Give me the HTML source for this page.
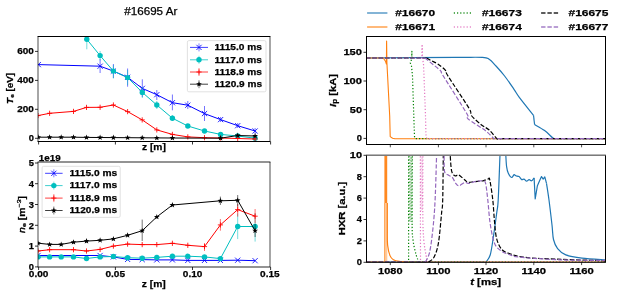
<!DOCTYPE html><html><head><meta charset="utf-8"><style>html,body{margin:0;padding:0;background:#fff;width:618px;height:301px;overflow:hidden}svg{display:block;will-change:transform}text{font-family:"Liberation Sans",sans-serif;stroke:#000;stroke-width:0.25px}</style></head><body>
<svg width="618" height="301" viewBox="0 0 618 301">
<defs>
<clipPath id="cte"><rect x="38.0" y="36.5" width="232.0" height="105.0"/></clipPath>
<clipPath id="cne"><rect x="38.0" y="162.0" width="232.0" height="105.0"/></clipPath>
<clipPath id="cip"><rect x="366.5" y="36.5" width="239.0" height="108.0"/></clipPath>
<clipPath id="chx"><rect x="366.5" y="155.3" width="239.0" height="107.0"/></clipPath>
</defs>
<text x="150.8" y="14.5" font-size="10.6" font-weight="normal" font-style="normal" text-anchor="middle" fill="#000" textLength="53" lengthAdjust="spacingAndGlyphs">#16695 Ar</text>
<g clip-path="url(#cte)">
<polyline points="38.3,64.6 100.1,66.2 113.4,71.1 127.6,77.3 142.3,88.4 156.8,94.7 172.4,102.7 187.8,105.2 204.5,113.6 220.6,119.6 237.7,125.7 255.1,131.0" fill="none" stroke="#0000ff" stroke-width="1.0" stroke-linecap="butt" stroke-linejoin="round"/>
<line x1="100.10" y1="59.00" x2="100.10" y2="73.00" stroke="#0000ff" stroke-width="1.0" stroke-opacity="0.55" stroke-linecap="butt"/>
<line x1="113.40" y1="64.00" x2="113.40" y2="78.00" stroke="#0000ff" stroke-width="1.0" stroke-opacity="0.55" stroke-linecap="butt"/>
<line x1="127.60" y1="68.50" x2="127.60" y2="86.70" stroke="#0000ff" stroke-width="1.0" stroke-opacity="0.55" stroke-linecap="butt"/>
<line x1="142.30" y1="79.30" x2="142.30" y2="97.00" stroke="#0000ff" stroke-width="1.0" stroke-opacity="0.55" stroke-linecap="butt"/>
<line x1="156.80" y1="90.00" x2="156.80" y2="100.00" stroke="#0000ff" stroke-width="1.0" stroke-opacity="0.55" stroke-linecap="butt"/>
<line x1="172.40" y1="94.50" x2="172.40" y2="110.30" stroke="#0000ff" stroke-width="1.0" stroke-opacity="0.55" stroke-linecap="butt"/>
<line x1="187.80" y1="101.00" x2="187.80" y2="109.00" stroke="#0000ff" stroke-width="1.0" stroke-opacity="0.55" stroke-linecap="butt"/>
<line x1="204.50" y1="106.00" x2="204.50" y2="121.00" stroke="#0000ff" stroke-width="1.0" stroke-opacity="0.55" stroke-linecap="butt"/>
<line x1="220.60" y1="117.00" x2="220.60" y2="122.00" stroke="#0000ff" stroke-width="1.0" stroke-opacity="0.55" stroke-linecap="butt"/>
<line x1="237.70" y1="123.00" x2="237.70" y2="128.00" stroke="#0000ff" stroke-width="1.0" stroke-opacity="0.55" stroke-linecap="butt"/>
<line x1="255.10" y1="128.00" x2="255.10" y2="134.00" stroke="#0000ff" stroke-width="1.0" stroke-opacity="0.55" stroke-linecap="butt"/>
<path d="M35.70,62.00L40.90,67.20M35.70,67.20L40.90,62.00" stroke="#0000ff" stroke-width="0.85" fill="none"/>
<path d="M97.50,63.60L102.70,68.80M97.50,68.80L102.70,63.60" stroke="#0000ff" stroke-width="0.85" fill="none"/>
<path d="M110.80,68.50L116.00,73.70M110.80,73.70L116.00,68.50" stroke="#0000ff" stroke-width="0.85" fill="none"/>
<path d="M125.00,74.70L130.20,79.90M125.00,79.90L130.20,74.70" stroke="#0000ff" stroke-width="0.85" fill="none"/>
<path d="M139.70,85.80L144.90,91.00M139.70,91.00L144.90,85.80" stroke="#0000ff" stroke-width="0.85" fill="none"/>
<path d="M154.20,92.10L159.40,97.30M154.20,97.30L159.40,92.10" stroke="#0000ff" stroke-width="0.85" fill="none"/>
<path d="M169.80,100.10L175.00,105.30M169.80,105.30L175.00,100.10" stroke="#0000ff" stroke-width="0.85" fill="none"/>
<path d="M185.20,102.60L190.40,107.80M185.20,107.80L190.40,102.60" stroke="#0000ff" stroke-width="0.85" fill="none"/>
<path d="M201.90,111.00L207.10,116.20M201.90,116.20L207.10,111.00" stroke="#0000ff" stroke-width="0.85" fill="none"/>
<path d="M218.00,117.00L223.20,122.20M218.00,122.20L223.20,117.00" stroke="#0000ff" stroke-width="0.85" fill="none"/>
<path d="M235.10,123.10L240.30,128.30M235.10,128.30L240.30,123.10" stroke="#0000ff" stroke-width="0.85" fill="none"/>
<path d="M252.50,128.40L257.70,133.60M252.50,133.60L257.70,128.40" stroke="#0000ff" stroke-width="0.85" fill="none"/>
<polyline points="86.8,39.3 100.1,55.6 113.4,71.1 127.6,77.6 142.3,92.4 156.8,105.0 172.4,118.2 187.8,126.0 204.5,131.0 220.6,134.4 237.7,136.0 255.1,138.2" fill="none" stroke="#00bfbf" stroke-width="1.0" stroke-linecap="butt" stroke-linejoin="round"/>
<line x1="86.80" y1="30.00" x2="86.80" y2="49.30" stroke="#00bfbf" stroke-width="1.0" stroke-opacity="0.55" stroke-linecap="butt"/>
<line x1="100.10" y1="51.00" x2="100.10" y2="60.60" stroke="#00bfbf" stroke-width="1.0" stroke-opacity="0.55" stroke-linecap="butt"/>
<line x1="113.40" y1="65.00" x2="113.40" y2="78.50" stroke="#00bfbf" stroke-width="1.0" stroke-opacity="0.55" stroke-linecap="butt"/>
<line x1="127.60" y1="70.00" x2="127.60" y2="85.00" stroke="#00bfbf" stroke-width="1.0" stroke-opacity="0.55" stroke-linecap="butt"/>
<line x1="142.30" y1="87.00" x2="142.30" y2="98.00" stroke="#00bfbf" stroke-width="1.0" stroke-opacity="0.55" stroke-linecap="butt"/>
<line x1="156.80" y1="101.00" x2="156.80" y2="109.00" stroke="#00bfbf" stroke-width="1.0" stroke-opacity="0.55" stroke-linecap="butt"/>
<line x1="172.40" y1="115.00" x2="172.40" y2="121.00" stroke="#00bfbf" stroke-width="1.0" stroke-opacity="0.55" stroke-linecap="butt"/>
<circle cx="86.80" cy="39.30" r="2.70" fill="#00bfbf"/>
<circle cx="100.10" cy="55.60" r="2.70" fill="#00bfbf"/>
<circle cx="113.40" cy="71.10" r="2.70" fill="#00bfbf"/>
<circle cx="127.60" cy="77.60" r="2.70" fill="#00bfbf"/>
<circle cx="142.30" cy="92.40" r="2.70" fill="#00bfbf"/>
<circle cx="156.80" cy="105.00" r="2.70" fill="#00bfbf"/>
<circle cx="172.40" cy="118.20" r="2.70" fill="#00bfbf"/>
<circle cx="187.80" cy="126.00" r="2.70" fill="#00bfbf"/>
<circle cx="204.50" cy="131.00" r="2.70" fill="#00bfbf"/>
<circle cx="220.60" cy="134.40" r="2.70" fill="#00bfbf"/>
<circle cx="237.70" cy="136.00" r="2.70" fill="#00bfbf"/>
<circle cx="255.10" cy="138.20" r="2.70" fill="#00bfbf"/>
<polyline points="38.0,115.6 49.6,113.3 73.5,111.4 86.5,107.4 100.1,107.3 113.4,105.0 127.6,111.6 142.2,119.9 156.8,129.9 172.4,134.4 187.8,136.9 204.5,137.7 220.6,138.0 237.7,138.5 255.1,139.0" fill="none" stroke="#ff0000" stroke-width="1.0" stroke-linecap="butt" stroke-linejoin="round"/>
<path d="M35.40,115.60L40.60,115.60M38.00,113.00L38.00,118.20" stroke="#ff0000" stroke-width="0.85" fill="none"/>
<path d="M47.00,113.30L52.20,113.30M49.60,110.70L49.60,115.90" stroke="#ff0000" stroke-width="0.85" fill="none"/>
<path d="M70.90,111.40L76.10,111.40M73.50,108.80L73.50,114.00" stroke="#ff0000" stroke-width="0.85" fill="none"/>
<path d="M83.90,107.40L89.10,107.40M86.50,104.80L86.50,110.00" stroke="#ff0000" stroke-width="0.85" fill="none"/>
<path d="M97.50,107.30L102.70,107.30M100.10,104.70L100.10,109.90" stroke="#ff0000" stroke-width="0.85" fill="none"/>
<path d="M110.80,105.00L116.00,105.00M113.40,102.40L113.40,107.60" stroke="#ff0000" stroke-width="0.85" fill="none"/>
<path d="M125.00,111.60L130.20,111.60M127.60,109.00L127.60,114.20" stroke="#ff0000" stroke-width="0.85" fill="none"/>
<path d="M139.60,119.90L144.80,119.90M142.20,117.30L142.20,122.50" stroke="#ff0000" stroke-width="0.85" fill="none"/>
<path d="M154.20,129.90L159.40,129.90M156.80,127.30L156.80,132.50" stroke="#ff0000" stroke-width="0.85" fill="none"/>
<path d="M169.80,134.40L175.00,134.40M172.40,131.80L172.40,137.00" stroke="#ff0000" stroke-width="0.85" fill="none"/>
<path d="M185.20,136.90L190.40,136.90M187.80,134.30L187.80,139.50" stroke="#ff0000" stroke-width="0.85" fill="none"/>
<path d="M201.90,137.70L207.10,137.70M204.50,135.10L204.50,140.30" stroke="#ff0000" stroke-width="0.85" fill="none"/>
<path d="M218.00,138.00L223.20,138.00M220.60,135.40L220.60,140.60" stroke="#ff0000" stroke-width="0.85" fill="none"/>
<path d="M235.10,138.50L240.30,138.50M237.70,135.90L237.70,141.10" stroke="#ff0000" stroke-width="0.85" fill="none"/>
<path d="M252.50,139.00L257.70,139.00M255.10,136.40L255.10,141.60" stroke="#ff0000" stroke-width="0.85" fill="none"/>
<polyline points="38.2,137.2 49.6,137.2 61.2,137.2 73.5,137.2 86.5,137.4 100.1,137.5 113.4,137.6 127.6,137.7 142.2,137.8 156.8,137.9 172.4,138.0 220.6,138.2 237.7,135.5 255.1,136.0" fill="none" stroke="#000000" stroke-width="1.0" stroke-linecap="butt" stroke-linejoin="round"/>
<polygon points="38.2,134.2 38.9,136.2 41.1,136.3 39.4,137.6 40.0,139.6 38.2,138.5 36.4,139.6 37.0,137.6 35.3,136.3 37.5,136.2" fill="#000000"/>
<polygon points="49.6,134.2 50.3,136.2 52.5,136.3 50.8,137.6 51.4,139.6 49.6,138.5 47.8,139.6 48.4,137.6 46.7,136.3 48.9,136.2" fill="#000000"/>
<polygon points="61.2,134.2 61.9,136.2 64.1,136.3 62.4,137.6 63.0,139.6 61.2,138.5 59.4,139.6 60.0,137.6 58.3,136.3 60.5,136.2" fill="#000000"/>
<polygon points="73.5,134.2 74.2,136.2 76.4,136.3 74.7,137.6 75.3,139.6 73.5,138.5 71.7,139.6 72.3,137.6 70.6,136.3 72.8,136.2" fill="#000000"/>
<polygon points="86.5,134.4 87.2,136.4 89.4,136.5 87.7,137.8 88.3,139.8 86.5,138.7 84.7,139.8 85.3,137.8 83.6,136.5 85.8,136.4" fill="#000000"/>
<polygon points="100.1,134.5 100.8,136.5 103.0,136.6 101.3,137.9 101.9,139.9 100.1,138.8 98.3,139.9 98.9,137.9 97.2,136.6 99.4,136.5" fill="#000000"/>
<polygon points="113.4,134.6 114.1,136.6 116.3,136.7 114.6,138.0 115.2,140.0 113.4,138.9 111.6,140.0 112.2,138.0 110.5,136.7 112.7,136.6" fill="#000000"/>
<polygon points="127.6,134.7 128.3,136.7 130.5,136.8 128.8,138.1 129.4,140.1 127.6,139.0 125.8,140.1 126.4,138.1 124.7,136.8 126.9,136.7" fill="#000000"/>
<polygon points="142.2,134.8 142.9,136.8 145.1,136.9 143.4,138.2 144.0,140.2 142.2,139.1 140.4,140.2 141.0,138.2 139.3,136.9 141.5,136.8" fill="#000000"/>
<polygon points="156.8,134.9 157.5,136.9 159.7,137.0 158.0,138.3 158.6,140.3 156.8,139.2 155.0,140.3 155.6,138.3 153.9,137.0 156.1,136.9" fill="#000000"/>
<polygon points="172.4,135.0 173.1,137.0 175.3,137.1 173.6,138.4 174.2,140.4 172.4,139.3 170.6,140.4 171.2,138.4 169.5,137.1 171.7,137.0" fill="#000000"/>
<polygon points="220.6,135.2 221.3,137.2 223.5,137.3 221.8,138.6 222.4,140.6 220.6,139.5 218.8,140.6 219.4,138.6 217.7,137.3 219.9,137.2" fill="#000000"/>
<polygon points="237.7,132.5 238.4,134.5 240.6,134.6 238.9,135.9 239.5,137.9 237.7,136.8 235.9,137.9 236.5,135.9 234.8,134.6 237.0,134.5" fill="#000000"/>
<polygon points="255.1,133.0 255.8,135.0 258.0,135.1 256.3,136.4 256.9,138.4 255.1,137.3 253.3,138.4 253.9,136.4 252.2,135.1 254.4,135.0" fill="#000000"/>
</g>
<g clip-path="url(#cne)">
<polyline points="38.0,255.5 100.1,255.5 113.4,256.9 127.6,259.4 142.2,259.6 156.8,259.9 172.4,259.9 187.8,260.4 204.5,260.4 220.4,260.4 237.7,260.2 255.1,260.7" fill="none" stroke="#0000ff" stroke-width="1.0" stroke-linecap="butt" stroke-linejoin="round"/>
<path d="M35.40,252.90L40.60,258.10M35.40,258.10L40.60,252.90" stroke="#0000ff" stroke-width="0.85" fill="none"/>
<path d="M97.50,252.90L102.70,258.10M97.50,258.10L102.70,252.90" stroke="#0000ff" stroke-width="0.85" fill="none"/>
<path d="M110.80,254.30L116.00,259.50M110.80,259.50L116.00,254.30" stroke="#0000ff" stroke-width="0.85" fill="none"/>
<path d="M125.00,256.80L130.20,262.00M125.00,262.00L130.20,256.80" stroke="#0000ff" stroke-width="0.85" fill="none"/>
<path d="M139.60,257.00L144.80,262.20M139.60,262.20L144.80,257.00" stroke="#0000ff" stroke-width="0.85" fill="none"/>
<path d="M154.20,257.30L159.40,262.50M154.20,262.50L159.40,257.30" stroke="#0000ff" stroke-width="0.85" fill="none"/>
<path d="M169.80,257.30L175.00,262.50M169.80,262.50L175.00,257.30" stroke="#0000ff" stroke-width="0.85" fill="none"/>
<path d="M185.20,257.80L190.40,263.00M185.20,263.00L190.40,257.80" stroke="#0000ff" stroke-width="0.85" fill="none"/>
<path d="M201.90,257.80L207.10,263.00M201.90,263.00L207.10,257.80" stroke="#0000ff" stroke-width="0.85" fill="none"/>
<path d="M217.80,257.80L223.00,263.00M217.80,263.00L223.00,257.80" stroke="#0000ff" stroke-width="0.85" fill="none"/>
<path d="M235.10,257.60L240.30,262.80M235.10,262.80L240.30,257.60" stroke="#0000ff" stroke-width="0.85" fill="none"/>
<path d="M252.50,258.10L257.70,263.30M252.50,263.30L257.70,258.10" stroke="#0000ff" stroke-width="0.85" fill="none"/>
<polyline points="38.0,256.9 49.6,256.9 61.2,256.9 73.5,256.9 86.5,258.5 100.1,256.9 113.4,256.5 127.6,257.7 142.2,258.2 156.8,257.4 172.4,256.2 187.8,256.2 204.5,256.9 220.4,258.6 237.7,226.5 255.1,226.5" fill="none" stroke="#00bfbf" stroke-width="1.0" stroke-linecap="butt" stroke-linejoin="round"/>
<line x1="237.70" y1="213.30" x2="237.70" y2="239.10" stroke="#00bfbf" stroke-width="1.0" stroke-opacity="0.55" stroke-linecap="butt"/>
<line x1="255.10" y1="213.00" x2="255.10" y2="241.60" stroke="#00bfbf" stroke-width="1.0" stroke-opacity="0.55" stroke-linecap="butt"/>
<circle cx="38.00" cy="256.90" r="2.70" fill="#00bfbf"/>
<circle cx="49.60" cy="256.90" r="2.70" fill="#00bfbf"/>
<circle cx="61.20" cy="256.90" r="2.70" fill="#00bfbf"/>
<circle cx="73.50" cy="256.90" r="2.70" fill="#00bfbf"/>
<circle cx="86.50" cy="258.50" r="2.70" fill="#00bfbf"/>
<circle cx="100.10" cy="256.90" r="2.70" fill="#00bfbf"/>
<circle cx="113.40" cy="256.50" r="2.70" fill="#00bfbf"/>
<circle cx="127.60" cy="257.70" r="2.70" fill="#00bfbf"/>
<circle cx="142.20" cy="258.20" r="2.70" fill="#00bfbf"/>
<circle cx="156.80" cy="257.40" r="2.70" fill="#00bfbf"/>
<circle cx="172.40" cy="256.20" r="2.70" fill="#00bfbf"/>
<circle cx="187.80" cy="256.20" r="2.70" fill="#00bfbf"/>
<circle cx="204.50" cy="256.90" r="2.70" fill="#00bfbf"/>
<circle cx="220.40" cy="258.60" r="2.70" fill="#00bfbf"/>
<circle cx="237.70" cy="226.50" r="2.70" fill="#00bfbf"/>
<circle cx="255.10" cy="226.50" r="2.70" fill="#00bfbf"/>
<polyline points="38.0,251.0 49.6,249.7 73.5,249.7 86.5,251.0 100.1,249.4 113.4,246.1 127.6,244.1 142.2,244.6 156.8,244.6 172.4,243.3 187.8,245.3 204.5,246.6 220.4,224.9 237.7,209.6 255.1,216.2" fill="none" stroke="#ff0000" stroke-width="1.0" stroke-linecap="butt" stroke-linejoin="round"/>
<line x1="204.50" y1="243.00" x2="204.50" y2="251.00" stroke="#ff0000" stroke-width="1.0" stroke-opacity="0.55" stroke-linecap="butt"/>
<line x1="220.40" y1="219.00" x2="220.40" y2="230.70" stroke="#ff0000" stroke-width="1.0" stroke-opacity="0.55" stroke-linecap="butt"/>
<line x1="237.70" y1="204.00" x2="237.70" y2="216.60" stroke="#ff0000" stroke-width="1.0" stroke-opacity="0.55" stroke-linecap="butt"/>
<line x1="255.10" y1="209.00" x2="255.10" y2="223.20" stroke="#ff0000" stroke-width="1.0" stroke-opacity="0.55" stroke-linecap="butt"/>
<path d="M35.40,251.00L40.60,251.00M38.00,248.40L38.00,253.60" stroke="#ff0000" stroke-width="0.85" fill="none"/>
<path d="M47.00,249.70L52.20,249.70M49.60,247.10L49.60,252.30" stroke="#ff0000" stroke-width="0.85" fill="none"/>
<path d="M70.90,249.70L76.10,249.70M73.50,247.10L73.50,252.30" stroke="#ff0000" stroke-width="0.85" fill="none"/>
<path d="M83.90,251.00L89.10,251.00M86.50,248.40L86.50,253.60" stroke="#ff0000" stroke-width="0.85" fill="none"/>
<path d="M97.50,249.40L102.70,249.40M100.10,246.80L100.10,252.00" stroke="#ff0000" stroke-width="0.85" fill="none"/>
<path d="M110.80,246.10L116.00,246.10M113.40,243.50L113.40,248.70" stroke="#ff0000" stroke-width="0.85" fill="none"/>
<path d="M125.00,244.10L130.20,244.10M127.60,241.50L127.60,246.70" stroke="#ff0000" stroke-width="0.85" fill="none"/>
<path d="M139.60,244.60L144.80,244.60M142.20,242.00L142.20,247.20" stroke="#ff0000" stroke-width="0.85" fill="none"/>
<path d="M154.20,244.60L159.40,244.60M156.80,242.00L156.80,247.20" stroke="#ff0000" stroke-width="0.85" fill="none"/>
<path d="M169.80,243.30L175.00,243.30M172.40,240.70L172.40,245.90" stroke="#ff0000" stroke-width="0.85" fill="none"/>
<path d="M185.20,245.30L190.40,245.30M187.80,242.70L187.80,247.90" stroke="#ff0000" stroke-width="0.85" fill="none"/>
<path d="M201.90,246.60L207.10,246.60M204.50,244.00L204.50,249.20" stroke="#ff0000" stroke-width="0.85" fill="none"/>
<path d="M217.80,224.90L223.00,224.90M220.40,222.30L220.40,227.50" stroke="#ff0000" stroke-width="0.85" fill="none"/>
<path d="M235.10,209.60L240.30,209.60M237.70,207.00L237.70,212.20" stroke="#ff0000" stroke-width="0.85" fill="none"/>
<path d="M252.50,216.20L257.70,216.20M255.10,213.60L255.10,218.80" stroke="#ff0000" stroke-width="0.85" fill="none"/>
<polyline points="38.0,243.2 49.6,244.4 61.2,244.4 73.5,242.2 86.5,241.1 100.1,240.3 113.4,238.9 127.6,235.3 142.2,230.7 156.8,216.9 172.4,205.0 220.4,200.8 237.7,200.3 255.1,230.7" fill="none" stroke="#000000" stroke-width="1.0" stroke-linecap="butt" stroke-linejoin="round"/>
<line x1="142.20" y1="219.60" x2="142.20" y2="241.00" stroke="#000000" stroke-width="1.0" stroke-opacity="0.55" stroke-linecap="butt"/>
<line x1="220.40" y1="196.60" x2="220.40" y2="205.00" stroke="#000000" stroke-width="1.0" stroke-opacity="0.55" stroke-linecap="butt"/>
<line x1="237.70" y1="195.00" x2="237.70" y2="206.60" stroke="#000000" stroke-width="1.0" stroke-opacity="0.55" stroke-linecap="butt"/>
<line x1="255.10" y1="224.00" x2="255.10" y2="237.00" stroke="#000000" stroke-width="1.0" stroke-opacity="0.55" stroke-linecap="butt"/>
<polygon points="38.0,240.2 38.7,242.2 40.9,242.3 39.2,243.6 39.8,245.6 38.0,244.5 36.2,245.6 36.8,243.6 35.1,242.3 37.3,242.2" fill="#000000"/>
<polygon points="49.6,241.4 50.3,243.4 52.5,243.5 50.8,244.8 51.4,246.8 49.6,245.7 47.8,246.8 48.4,244.8 46.7,243.5 48.9,243.4" fill="#000000"/>
<polygon points="61.2,241.4 61.9,243.4 64.1,243.5 62.4,244.8 63.0,246.8 61.2,245.7 59.4,246.8 60.0,244.8 58.3,243.5 60.5,243.4" fill="#000000"/>
<polygon points="73.5,239.2 74.2,241.2 76.4,241.3 74.7,242.6 75.3,244.6 73.5,243.5 71.7,244.6 72.3,242.6 70.6,241.3 72.8,241.2" fill="#000000"/>
<polygon points="86.5,238.1 87.2,240.1 89.4,240.2 87.7,241.5 88.3,243.5 86.5,242.4 84.7,243.5 85.3,241.5 83.6,240.2 85.8,240.1" fill="#000000"/>
<polygon points="100.1,237.3 100.8,239.3 103.0,239.4 101.3,240.7 101.9,242.7 100.1,241.6 98.3,242.7 98.9,240.7 97.2,239.4 99.4,239.3" fill="#000000"/>
<polygon points="113.4,235.9 114.1,237.9 116.3,238.0 114.6,239.3 115.2,241.3 113.4,240.2 111.6,241.3 112.2,239.3 110.5,238.0 112.7,237.9" fill="#000000"/>
<polygon points="127.6,232.3 128.3,234.3 130.5,234.4 128.8,235.7 129.4,237.7 127.6,236.6 125.8,237.7 126.4,235.7 124.7,234.4 126.9,234.3" fill="#000000"/>
<polygon points="142.2,227.7 142.9,229.7 145.1,229.8 143.4,231.1 144.0,233.1 142.2,232.0 140.4,233.1 141.0,231.1 139.3,229.8 141.5,229.7" fill="#000000"/>
<polygon points="156.8,213.9 157.5,215.9 159.7,216.0 158.0,217.3 158.6,219.3 156.8,218.2 155.0,219.3 155.6,217.3 153.9,216.0 156.1,215.9" fill="#000000"/>
<polygon points="172.4,202.0 173.1,204.0 175.3,204.1 173.6,205.4 174.2,207.4 172.4,206.3 170.6,207.4 171.2,205.4 169.5,204.1 171.7,204.0" fill="#000000"/>
<polygon points="220.4,197.8 221.1,199.8 223.3,199.9 221.6,201.2 222.2,203.2 220.4,202.1 218.6,203.2 219.2,201.2 217.5,199.9 219.7,199.8" fill="#000000"/>
<polygon points="237.7,197.3 238.4,199.3 240.6,199.4 238.9,200.7 239.5,202.7 237.7,201.6 235.9,202.7 236.5,200.7 234.8,199.4 237.0,199.3" fill="#000000"/>
<polygon points="255.1,227.7 255.8,229.7 258.0,229.8 256.3,231.1 256.9,233.1 255.1,232.0 253.3,233.1 253.9,231.1 252.2,229.8 254.4,229.7" fill="#000000"/>
</g>
<line x1="38.00" y1="36.50" x2="38.00" y2="141.50" stroke="#000" stroke-width="0.7" stroke-linecap="butt"/>
<line x1="270.00" y1="36.50" x2="270.00" y2="141.50" stroke="#000" stroke-width="0.7" stroke-linecap="butt"/>
<line x1="37.60" y1="36.50" x2="270.40" y2="36.50" stroke="#000" stroke-width="1.0" stroke-linecap="butt"/>
<line x1="37.60" y1="141.50" x2="270.40" y2="141.50" stroke="#000" stroke-width="1.0" stroke-linecap="butt"/>
<line x1="38.00" y1="162.00" x2="38.00" y2="267.00" stroke="#000" stroke-width="0.7" stroke-linecap="butt"/>
<line x1="270.00" y1="162.00" x2="270.00" y2="267.00" stroke="#000" stroke-width="0.7" stroke-linecap="butt"/>
<line x1="37.60" y1="162.00" x2="270.40" y2="162.00" stroke="#000" stroke-width="0.85" stroke-linecap="butt"/>
<line x1="37.60" y1="267.00" x2="270.40" y2="267.00" stroke="#000" stroke-width="0.85" stroke-linecap="butt"/>
<line x1="38.60" y1="141.50" x2="38.60" y2="144.50" stroke="#000" stroke-width="0.8" stroke-linecap="butt"/>
<line x1="38.60" y1="267.00" x2="38.60" y2="270.00" stroke="#000" stroke-width="0.8" stroke-linecap="butt"/>
<line x1="115.40" y1="141.50" x2="115.40" y2="144.50" stroke="#000" stroke-width="0.8" stroke-linecap="butt"/>
<line x1="115.40" y1="267.00" x2="115.40" y2="270.00" stroke="#000" stroke-width="0.8" stroke-linecap="butt"/>
<line x1="192.50" y1="141.50" x2="192.50" y2="144.50" stroke="#000" stroke-width="0.8" stroke-linecap="butt"/>
<line x1="192.50" y1="267.00" x2="192.50" y2="270.00" stroke="#000" stroke-width="0.8" stroke-linecap="butt"/>
<line x1="270.60" y1="141.50" x2="270.60" y2="144.50" stroke="#000" stroke-width="0.8" stroke-linecap="butt"/>
<line x1="270.60" y1="267.00" x2="270.60" y2="270.00" stroke="#000" stroke-width="0.8" stroke-linecap="butt"/>
<line x1="35.00" y1="51.40" x2="38.00" y2="51.40" stroke="#000" stroke-width="0.8" stroke-linecap="butt"/>
<text x="33.9" y="54.3" font-size="9.2" font-weight="bold" font-style="normal" text-anchor="end" fill="#000" textLength="16.6" lengthAdjust="spacingAndGlyphs">600</text>
<line x1="35.00" y1="80.40" x2="38.00" y2="80.40" stroke="#000" stroke-width="0.8" stroke-linecap="butt"/>
<text x="33.9" y="83.30000000000001" font-size="9.2" font-weight="bold" font-style="normal" text-anchor="end" fill="#000" textLength="16.6" lengthAdjust="spacingAndGlyphs">400</text>
<line x1="35.00" y1="109.30" x2="38.00" y2="109.30" stroke="#000" stroke-width="0.8" stroke-linecap="butt"/>
<text x="33.9" y="112.2" font-size="9.2" font-weight="bold" font-style="normal" text-anchor="end" fill="#000" textLength="16.6" lengthAdjust="spacingAndGlyphs">200</text>
<line x1="35.00" y1="138.30" x2="38.00" y2="138.30" stroke="#000" stroke-width="0.8" stroke-linecap="butt"/>
<text x="33.9" y="141.20000000000002" font-size="9.2" font-weight="bold" font-style="normal" text-anchor="end" fill="#000" textLength="5.2" lengthAdjust="spacingAndGlyphs">0</text>
<line x1="35.00" y1="163.00" x2="38.00" y2="163.00" stroke="#000" stroke-width="0.8" stroke-linecap="butt"/>
<text x="33.9" y="166.3" font-size="9.2" font-weight="bold" font-style="normal" text-anchor="end" fill="#000" textLength="5.2" lengthAdjust="spacingAndGlyphs">5</text>
<line x1="35.00" y1="183.70" x2="38.00" y2="183.70" stroke="#000" stroke-width="0.8" stroke-linecap="butt"/>
<text x="33.9" y="187.0" font-size="9.2" font-weight="bold" font-style="normal" text-anchor="end" fill="#000" textLength="5.2" lengthAdjust="spacingAndGlyphs">4</text>
<line x1="35.00" y1="204.50" x2="38.00" y2="204.50" stroke="#000" stroke-width="0.8" stroke-linecap="butt"/>
<text x="33.9" y="207.8" font-size="9.2" font-weight="bold" font-style="normal" text-anchor="end" fill="#000" textLength="5.2" lengthAdjust="spacingAndGlyphs">3</text>
<line x1="35.00" y1="225.30" x2="38.00" y2="225.30" stroke="#000" stroke-width="0.8" stroke-linecap="butt"/>
<text x="33.9" y="228.60000000000002" font-size="9.2" font-weight="bold" font-style="normal" text-anchor="end" fill="#000" textLength="5.2" lengthAdjust="spacingAndGlyphs">2</text>
<line x1="35.00" y1="246.10" x2="38.00" y2="246.10" stroke="#000" stroke-width="0.8" stroke-linecap="butt"/>
<text x="33.9" y="249.4" font-size="9.2" font-weight="bold" font-style="normal" text-anchor="end" fill="#000" textLength="5.2" lengthAdjust="spacingAndGlyphs">1</text>
<line x1="35.00" y1="266.90" x2="38.00" y2="266.90" stroke="#000" stroke-width="0.8" stroke-linecap="butt"/>
<text x="33.9" y="270.2" font-size="9.2" font-weight="bold" font-style="normal" text-anchor="end" fill="#000" textLength="5.2" lengthAdjust="spacingAndGlyphs">0</text>
<text x="38.8" y="161.2" font-size="9.2" font-weight="bold" font-style="normal" text-anchor="start" fill="#000" textLength="21.9" lengthAdjust="spacingAndGlyphs">1e19</text>
<text x="38.6" y="277.3" font-size="9.2" font-weight="bold" font-style="normal" text-anchor="middle" fill="#000" textLength="19.6" lengthAdjust="spacingAndGlyphs">0.00</text>
<text x="115.2" y="277.3" font-size="9.2" font-weight="bold" font-style="normal" text-anchor="middle" fill="#000" textLength="19.6" lengthAdjust="spacingAndGlyphs">0.05</text>
<text x="192.6" y="277.3" font-size="9.2" font-weight="bold" font-style="normal" text-anchor="middle" fill="#000" textLength="19.6" lengthAdjust="spacingAndGlyphs">0.10</text>
<text x="269.9" y="277.3" font-size="9.2" font-weight="bold" font-style="normal" text-anchor="middle" fill="#000" textLength="19.6" lengthAdjust="spacingAndGlyphs">0.15</text>
<text x="153.9" y="150.0" font-size="9.2" font-weight="bold" font-style="normal" text-anchor="middle" fill="#000" textLength="23.9" lengthAdjust="spacingAndGlyphs">z [m]</text>
<text x="153.8" y="287.0" font-size="9.2" font-weight="bold" font-style="normal" text-anchor="middle" fill="#000" textLength="24.0" lengthAdjust="spacingAndGlyphs">z [m]</text>
<text transform="translate(12.6,88.4) rotate(-90)" font-size="9.2" font-weight="bold" text-anchor="middle" textLength="31" lengthAdjust="spacingAndGlyphs"><tspan font-style="italic">T</tspan><tspan font-size="6.0" dy="1.5">e</tspan><tspan dy="-1.5"> [eV]</tspan></text>
<text transform="translate(24.8,214.4) rotate(-90)" font-size="8.7" font-weight="bold" text-anchor="middle" textLength="37" lengthAdjust="spacingAndGlyphs"><tspan font-style="italic" font-weight="normal" style="stroke-width:0.4px">n</tspan><tspan font-size="6.0" dy="1.5" font-weight="normal" style="stroke-width:0.3px">e</tspan><tspan dy="-1.5"> [m</tspan><tspan font-size="6.0" dy="-3.5" font-weight="normal" style="stroke-width:0.3px">−3</tspan><tspan dy="3.5">]</tspan></text>
<rect x="187.4" y="40.6" width="78.6" height="51.2" rx="1.5" fill="#fff" fill-opacity="0.8" stroke="#d9d9d9" stroke-width="0.8"/>
<line x1="190.00" y1="47.40" x2="208.00" y2="47.40" stroke="#0000ff" stroke-width="1.0" stroke-opacity="0.75" stroke-linecap="butt"/>
<line x1="199.00" y1="43.40" x2="199.00" y2="51.40" stroke="#0000ff" stroke-width="1.0" stroke-opacity="0.5" stroke-linecap="butt"/>
<path d="M196.40,44.80L201.60,50.00M196.40,50.00L201.60,44.80" stroke="#0000ff" stroke-width="0.85" fill="none"/>
<text x="214.5" y="50.199999999999996" font-size="9.2" font-weight="bold" font-style="normal" text-anchor="start" fill="#000" textLength="47.5" lengthAdjust="spacingAndGlyphs">1115.0 ms</text>
<line x1="190.00" y1="59.80" x2="208.00" y2="59.80" stroke="#00bfbf" stroke-width="1.0" stroke-opacity="0.75" stroke-linecap="butt"/>
<line x1="199.00" y1="55.80" x2="199.00" y2="63.80" stroke="#00bfbf" stroke-width="1.0" stroke-opacity="0.5" stroke-linecap="butt"/>
<circle cx="199.00" cy="59.80" r="2.70" fill="#00bfbf"/>
<text x="214.5" y="62.599999999999994" font-size="9.2" font-weight="bold" font-style="normal" text-anchor="start" fill="#000" textLength="47.5" lengthAdjust="spacingAndGlyphs">1117.0 ms</text>
<line x1="190.00" y1="72.00" x2="208.00" y2="72.00" stroke="#ff0000" stroke-width="1.0" stroke-opacity="0.75" stroke-linecap="butt"/>
<line x1="199.00" y1="68.00" x2="199.00" y2="76.00" stroke="#ff0000" stroke-width="1.0" stroke-opacity="0.5" stroke-linecap="butt"/>
<path d="M196.40,72.00L201.60,72.00M199.00,69.40L199.00,74.60" stroke="#ff0000" stroke-width="0.85" fill="none"/>
<text x="214.5" y="74.8" font-size="9.2" font-weight="bold" font-style="normal" text-anchor="start" fill="#000" textLength="47.5" lengthAdjust="spacingAndGlyphs">1118.9 ms</text>
<line x1="190.00" y1="84.20" x2="208.00" y2="84.20" stroke="#000000" stroke-width="1.0" stroke-opacity="0.75" stroke-linecap="butt"/>
<line x1="199.00" y1="80.20" x2="199.00" y2="88.20" stroke="#000000" stroke-width="1.0" stroke-opacity="0.5" stroke-linecap="butt"/>
<polygon points="199.0,81.2 199.7,83.2 201.9,83.3 200.2,84.6 200.8,86.6 199.0,85.5 197.2,86.6 197.8,84.6 196.1,83.3 198.3,83.2" fill="#000000"/>
<text x="214.5" y="87.0" font-size="9.2" font-weight="bold" font-style="normal" text-anchor="start" fill="#000" textLength="47.5" lengthAdjust="spacingAndGlyphs">1120.9 ms</text>
<rect x="42.1" y="166.3" width="78.1" height="51.1" rx="1.5" fill="#fff" fill-opacity="0.8" stroke="#d9d9d9" stroke-width="0.8"/>
<line x1="45.10" y1="173.30" x2="62.60" y2="173.30" stroke="#0000ff" stroke-width="1.0" stroke-opacity="0.75" stroke-linecap="butt"/>
<line x1="53.85" y1="169.30" x2="53.85" y2="177.30" stroke="#0000ff" stroke-width="1.0" stroke-opacity="0.5" stroke-linecap="butt"/>
<path d="M51.25,170.70L56.45,175.90M51.25,175.90L56.45,170.70" stroke="#0000ff" stroke-width="0.85" fill="none"/>
<text x="69.5" y="176.10000000000002" font-size="9.2" font-weight="bold" font-style="normal" text-anchor="start" fill="#000" textLength="47.7" lengthAdjust="spacingAndGlyphs">1115.0 ms</text>
<line x1="45.10" y1="185.60" x2="62.60" y2="185.60" stroke="#00bfbf" stroke-width="1.0" stroke-opacity="0.75" stroke-linecap="butt"/>
<line x1="53.85" y1="181.60" x2="53.85" y2="189.60" stroke="#00bfbf" stroke-width="1.0" stroke-opacity="0.5" stroke-linecap="butt"/>
<circle cx="53.85" cy="185.60" r="2.70" fill="#00bfbf"/>
<text x="69.5" y="188.4" font-size="9.2" font-weight="bold" font-style="normal" text-anchor="start" fill="#000" textLength="47.7" lengthAdjust="spacingAndGlyphs">1117.0 ms</text>
<line x1="45.10" y1="198.10" x2="62.60" y2="198.10" stroke="#ff0000" stroke-width="1.0" stroke-opacity="0.75" stroke-linecap="butt"/>
<line x1="53.85" y1="194.10" x2="53.85" y2="202.10" stroke="#ff0000" stroke-width="1.0" stroke-opacity="0.5" stroke-linecap="butt"/>
<path d="M51.25,198.10L56.45,198.10M53.85,195.50L53.85,200.70" stroke="#ff0000" stroke-width="0.85" fill="none"/>
<text x="69.5" y="200.9" font-size="9.2" font-weight="bold" font-style="normal" text-anchor="start" fill="#000" textLength="47.7" lengthAdjust="spacingAndGlyphs">1118.9 ms</text>
<line x1="45.10" y1="210.50" x2="62.60" y2="210.50" stroke="#000000" stroke-width="1.0" stroke-opacity="0.75" stroke-linecap="butt"/>
<line x1="53.85" y1="206.50" x2="53.85" y2="214.50" stroke="#000000" stroke-width="1.0" stroke-opacity="0.5" stroke-linecap="butt"/>
<polygon points="53.9,207.5 54.6,209.5 56.7,209.6 55.0,210.9 55.6,212.9 53.9,211.8 52.1,212.9 52.7,210.9 51.0,209.6 53.1,209.5" fill="#000000"/>
<text x="69.5" y="213.3" font-size="9.2" font-weight="bold" font-style="normal" text-anchor="start" fill="#000" textLength="47.7" lengthAdjust="spacingAndGlyphs">1120.9 ms</text>
<g clip-path="url(#cip)">
<path d="M366.00,58.00C381.00,57.90 436.58,57.50 456.00,57.40C475.42,57.30 476.97,57.08 482.50,57.40C488.03,57.72 486.95,57.87 489.20,59.30C491.45,60.73 493.43,63.22 496.00,66.00C498.57,68.78 501.60,72.12 504.60,76.00C507.60,79.88 511.55,85.75 514.00,89.30C516.45,92.85 516.05,92.97 519.30,97.30C522.55,101.63 531.13,112.30 533.50,115.30" fill="none" stroke="#1f77b4" stroke-width="1.2" stroke-linejoin="round"/>
<polyline points="533.5,115.3 534.6,124.6" fill="none" stroke="#1f77b4" stroke-width="1.2" stroke-linecap="butt" stroke-linejoin="round"/>
<path d="M534.60,124.60C536.27,125.60 541.60,128.40 544.60,130.60C547.60,132.80 550.87,136.45 552.60,137.80C554.33,139.15 553.77,138.55 555.00,138.70C556.23,138.85 559.17,138.70 560.00,138.70" fill="none" stroke="#1f77b4" stroke-width="1.2" stroke-linejoin="round"/>
<polyline points="560.0,138.7 606.0,138.7" fill="none" stroke="#1f77b4" stroke-width="1.2" stroke-linecap="butt" stroke-linejoin="round"/>
<polyline points="366.0,58.0 383.3,58.0 385.6,61.5 386.4,64.0 386.6,41.0 386.9,62.7 387.6,76.0 389.7,116.0 390.2,136.6 392.6,138.2 395.0,138.7 606.0,138.7" fill="none" stroke="#ff7f0e" stroke-width="1.1" stroke-linecap="butt" stroke-linejoin="round"/>
<polyline points="366.0,58.0 411.6,58.0 411.9,51.3 411.9,58.5 410.3,63.0 411.5,66.0 412.5,76.0 413.8,116.0 414.5,136.6 415.5,138.7 606.0,138.7" fill="none" stroke="#008000" stroke-width="1.2" stroke-dasharray="1.2,2.0" stroke-linecap="butt" stroke-linejoin="round"/>
<polyline points="366.0,58.0 421.9,58.0 422.1,44.2 422.5,58.0 423.5,64.0 424.0,76.0 425.5,116.0 426.0,136.6 427.0,138.7 606.0,138.7" fill="none" stroke="#e377c2" stroke-width="1.2" stroke-dasharray="1.2,2.0" stroke-linecap="butt" stroke-linejoin="round"/>
<polyline points="366.0,58.0 426.6,58.0" fill="none" stroke="#000000" stroke-width="1.2" stroke-dasharray="4.4,1.9" stroke-linecap="butt" stroke-linejoin="round"/>
<path d="M426.60,58.00C427.37,58.43 429.33,59.60 431.20,60.60C433.07,61.60 435.38,62.33 437.80,64.00C440.22,65.67 444.00,68.60 445.70,70.60C447.40,72.60 444.08,69.67 448.00,76.00C451.92,82.33 465.33,102.05 469.20,108.60C473.07,115.15 469.20,112.62 471.20,115.30C473.20,117.98 478.20,122.25 481.20,124.70C484.20,127.15 486.55,127.67 489.20,130.00C491.85,132.33 495.13,137.25 497.10,138.70C499.07,140.15 500.35,138.70 501.00,138.70" fill="none" stroke="#000000" stroke-width="1.2" stroke-dasharray="4.4,1.9" stroke-linejoin="round"/>
<polyline points="501.0,138.7 606.0,138.7" fill="none" stroke="#000000" stroke-width="1.2" stroke-dasharray="4.4,1.9" stroke-linecap="butt" stroke-linejoin="round"/>
<polyline points="366.0,58.0 425.0,58.0" fill="none" stroke="#9467bd" stroke-width="1.2" stroke-dasharray="4.4,1.9" stroke-linecap="butt" stroke-linejoin="round"/>
<path d="M425.00,58.00C425.67,58.55 426.43,59.20 429.00,61.30C431.57,63.40 438.02,68.15 440.40,70.60C442.78,73.05 438.93,68.88 443.30,76.00C447.67,83.12 462.60,106.30 466.60,113.30C470.60,120.30 466.53,116.67 467.30,118.00C468.07,119.33 468.67,119.53 471.20,121.30C473.73,123.07 479.73,126.72 482.50,128.60C485.27,130.48 486.13,131.15 487.80,132.60C489.47,134.05 491.47,136.28 492.50,137.30C493.53,138.32 493.08,138.47 494.00,138.70C494.92,138.93 497.33,138.70 498.00,138.70" fill="none" stroke="#9467bd" stroke-width="1.2" stroke-dasharray="4.4,1.9" stroke-linejoin="round"/>
<polyline points="498.0,138.7 606.0,138.7" fill="none" stroke="#9467bd" stroke-width="1.2" stroke-dasharray="4.4,1.9" stroke-linecap="butt" stroke-linejoin="round"/>
</g>
<g clip-path="url(#chx)">
<polyline points="366.0,262.1 485.9,262.1" fill="none" stroke="#1f77b4" stroke-width="1.2" stroke-linecap="butt" stroke-linejoin="round"/>
<path d="M485.90,262.10C486.62,260.92 488.95,259.23 490.20,255.00C491.45,250.77 492.32,243.70 493.40,236.70C494.48,229.70 495.90,219.12 496.70,213.00C497.50,206.88 497.65,209.67 498.20,200.00C498.75,190.33 499.65,163.33 500.00,155.00C500.35,146.67 500.25,150.83 500.30,150.00" fill="none" stroke="#1f77b4" stroke-width="1.2" stroke-linejoin="round"/>
<path d="M505.60,150.00C505.63,150.83 505.63,152.23 505.80,155.00C505.97,157.77 506.18,163.55 506.60,166.60C507.02,169.65 507.47,171.48 508.30,173.30C509.13,175.12 510.63,177.28 511.60,177.50C512.57,177.72 513.40,174.88 514.10,174.60C514.80,174.32 514.97,175.47 515.80,175.80C516.63,176.13 518.13,175.97 519.10,176.60C520.07,177.23 520.77,179.18 521.60,179.60C522.43,180.02 523.27,178.83 524.10,179.10C524.93,179.37 525.77,181.12 526.60,181.20C527.43,181.28 528.27,179.67 529.10,179.60C529.93,179.53 530.77,181.08 531.60,180.80C532.43,180.52 533.68,178.38 534.10,177.90" fill="none" stroke="#1f77b4" stroke-width="1.2" stroke-linejoin="round"/>
<polyline points="534.1,177.9 535.2,199.0 537.4,185.7 539.9,180.0 541.5,176.6 543.2,179.1 544.8,176.9 546.5,183.3" fill="none" stroke="#1f77b4" stroke-width="1.2" stroke-linecap="butt" stroke-linejoin="round"/>
<path d="M546.50,183.30C546.92,186.08 548.08,193.05 549.00,200.00C549.92,206.95 551.25,218.42 552.00,225.00C552.75,231.58 552.57,235.57 553.50,239.50C554.43,243.43 555.55,246.03 557.60,248.60C559.65,251.17 561.73,253.30 565.80,254.90C569.87,256.50 575.30,257.38 582.00,258.20C588.70,259.02 602.00,259.53 606.00,259.80" fill="none" stroke="#1f77b4" stroke-width="1.2" stroke-linejoin="round"/>
<rect x="384.4" y="150" width="2.8" height="53" fill="#ff7f0e" fill-opacity="0.92"/>
<rect x="384.1" y="203" width="3.2" height="59.10000000000002" fill="#ff7f0e" fill-opacity="0.42"/>
<polyline points="384.6,203.0 384.6,262.1" fill="none" stroke="#ff7f0e" stroke-width="1.0" stroke-opacity="0.5" stroke-linecap="butt" stroke-linejoin="round"/>
<path d="M387.30,203.00C387.30,207.50 387.25,223.00 387.30,230.00C387.35,237.00 387.15,240.73 387.60,245.00C388.05,249.27 389.03,253.15 390.00,255.60C390.97,258.05 391.85,258.73 393.40,259.70C394.95,260.67 396.53,261.00 399.30,261.40C402.07,261.80 408.22,261.98 410.00,262.10" fill="none" stroke="#ff7f0e" stroke-width="1.2" stroke-linejoin="round"/>
<polyline points="366.0,262.1 384.6,262.1" fill="none" stroke="#ff7f0e" stroke-width="1.2" stroke-linecap="butt" stroke-linejoin="round"/>
<polyline points="410.0,262.1 606.0,262.1" fill="none" stroke="#ff7f0e" stroke-width="1.2" stroke-linecap="butt" stroke-linejoin="round"/>
<path d="M408.6,150L412.4,151.6L408.6,153.2L412.4,154.8L408.6,156.4L412.4,158.0L408.6,159.6L412.4,161.2L408.6,162.8L412.4,164.4L408.6,166.0L412.4,167.6L408.6,169.2L412.4,170.8L408.6,172.4L412.4,174.0L408.6,175.6L412.4,177.2L408.6,178.8L412.4,180.4L408.6,182.0L412.4,183.6L408.6,185.2L412.4,186.8L408.6,188.4L412.4,190.0L408.6,191.6L412.4,193.2L408.6,194.8L412.4,196.4L408.6,198.0L412.4,199.6L408.6,201.2L412.4,202.8L408.6,204.4L412.4,206.0L408.6,207.6L412.4,209.2L408.6,210.8L412.4,212.4L408.6,214.0L412.4,215.6L408.6,217.2L412.4,218.8L408.6,220.4L412.4,222.0" stroke="#008000" stroke-width="0.8" stroke-opacity="0.55" fill="none"/>
<polyline points="408.6,150.0 408.6,260.5 409.0,262.1 606.0,262.1" fill="none" stroke="#008000" stroke-width="1.2" stroke-dasharray="1.2,2.0" stroke-linecap="butt" stroke-linejoin="round"/>
<path d="M412.30,150.00C412.27,162.00 411.98,207.00 412.10,222.00C412.22,237.00 412.32,234.50 413.00,240.00C413.68,245.50 415.13,251.32 416.20,255.00C417.27,258.68 418.27,260.92 419.40,262.10C420.53,263.28 422.40,262.10 423.00,262.10" fill="none" stroke="#008000" stroke-width="1.2" stroke-dasharray="1.2,2.0" stroke-linejoin="round"/>
<path d="M420.2,150L422.9,151.6L420.2,153.2L422.9,154.8L420.2,156.4L422.9,158.0L420.2,159.6L422.9,161.2L420.2,162.8L422.9,164.4L420.2,166.0L422.9,167.6L420.2,169.2L422.9,170.8L420.2,172.4L422.9,174.0L420.2,175.6L422.9,177.2L420.2,178.8L422.9,180.4L420.2,182.0L422.9,183.6L420.2,185.2L422.9,186.8L420.2,188.4L422.9,190.0L420.2,191.6L422.9,193.2L420.2,194.8L422.9,196.4L420.2,198.0L422.9,199.6L420.2,201.2L422.9,202.8L420.2,204.4L422.9,206.0L420.2,207.6L422.9,209.2L420.2,210.8" stroke="#e377c2" stroke-width="0.8" stroke-opacity="0.55" fill="none"/>
<polyline points="420.3,150.0 420.5,261.0 421.0,262.1 606.0,262.1" fill="none" stroke="#e377c2" stroke-width="1.2" stroke-dasharray="1.2,2.0" stroke-linecap="butt" stroke-linejoin="round"/>
<path d="M422.90,150.00C422.88,160.83 422.65,200.00 422.80,215.00C422.95,230.00 423.27,233.33 423.80,240.00C424.33,246.67 425.30,251.32 426.00,255.00C426.70,258.68 427.17,260.92 428.00,262.10C428.83,263.28 430.50,262.10 431.00,262.10" fill="none" stroke="#e377c2" stroke-width="1.2" stroke-dasharray="1.2,2.0" stroke-linejoin="round"/>
<polyline points="366.0,262.1 428.6,262.1" fill="none" stroke="#000000" stroke-width="1.2" stroke-dasharray="4.4,1.9" stroke-linecap="butt" stroke-linejoin="round"/>
<path d="M428.60,262.10C429.50,261.28 432.37,260.35 434.00,257.20C435.63,254.05 437.13,250.57 438.40,243.20C439.67,235.83 440.88,220.20 441.60,213.00C442.32,205.80 442.42,209.67 442.70,200.00C442.98,190.33 443.18,163.33 443.30,155.00C443.42,146.67 443.38,150.83 443.40,150.00" fill="none" stroke="#000000" stroke-width="1.2" stroke-dasharray="4.4,1.9" stroke-linejoin="round"/>
<path d="M450.10,150.00C450.12,150.83 449.95,151.53 450.20,155.00C450.45,158.47 450.82,167.33 451.60,170.80C452.38,174.27 453.93,175.10 454.90,175.80C455.87,176.50 456.72,175.13 457.40,175.00C458.08,174.87 457.75,174.17 459.00,175.00C460.25,175.83 463.37,178.77 464.90,180.00C466.43,181.23 466.55,182.13 468.20,182.40C469.85,182.67 472.32,181.87 474.80,181.60C477.28,181.33 480.88,181.23 483.10,180.80C485.32,180.37 486.98,179.13 488.10,179.00C489.22,178.87 489.02,176.50 489.80,180.00C490.58,183.50 492.02,193.07 492.80,200.00C493.58,206.93 493.85,215.12 494.50,221.60C495.15,228.08 495.45,234.22 496.70,238.90C497.95,243.58 499.67,247.18 502.00,249.70C504.33,252.22 507.70,252.85 510.70,254.00C513.70,255.15 515.12,255.85 520.00,256.60C524.88,257.35 525.83,257.80 540.00,258.50C554.17,259.20 594.17,260.42 605.00,260.80" fill="none" stroke="#000000" stroke-width="1.2" stroke-dasharray="4.4,1.9" stroke-linejoin="round"/>
<polyline points="366.0,262.1 425.4,262.1" fill="none" stroke="#9467bd" stroke-width="1.2" stroke-dasharray="4.4,1.9" stroke-linecap="butt" stroke-linejoin="round"/>
<path d="M425.40,262.10C426.12,260.38 428.43,257.48 429.70,251.80C430.97,246.12 432.10,236.63 433.00,228.00C433.90,219.37 434.50,212.17 435.10,200.00C435.70,187.83 436.32,163.33 436.60,155.00C436.88,146.67 436.77,150.83 436.80,150.00" fill="none" stroke="#9467bd" stroke-width="1.2" stroke-dasharray="4.4,1.9" stroke-linejoin="round"/>
<path d="M443.90,150.00C443.93,150.83 443.98,151.40 444.10,155.00C444.22,158.60 443.90,168.27 444.60,171.60C445.30,174.93 447.00,174.02 448.30,175.00C449.60,175.98 451.17,176.12 452.40,177.50C453.63,178.88 454.60,181.92 455.70,183.30C456.80,184.68 457.47,185.95 459.00,185.80C460.53,185.65 463.23,182.78 464.90,182.40C466.57,182.02 467.35,183.63 469.00,183.50C470.65,183.37 472.45,182.05 474.80,181.60C477.15,181.15 481.30,180.52 483.10,180.80C484.90,181.08 484.82,180.10 485.60,183.30C486.38,186.50 487.03,193.25 487.80,200.00C488.57,206.75 489.08,216.60 490.20,223.80C491.32,231.00 492.70,238.70 494.50,243.20C496.30,247.70 498.30,248.82 501.00,250.80C503.70,252.78 507.53,254.03 510.70,255.10C513.87,256.17 511.73,256.42 520.00,257.20C528.27,257.98 545.97,259.27 560.30,259.80C574.63,260.33 598.38,260.30 606.00,260.40" fill="none" stroke="#9467bd" stroke-width="1.2" stroke-dasharray="4.4,1.9" stroke-linejoin="round"/>
</g>
<rect x="366.5" y="36.5" width="239.0" height="108.0" fill="none" stroke="#000" stroke-width="1"/>
<rect x="366.5" y="155.3" width="239.0" height="107.0" fill="none" stroke="#000" stroke-width="1"/>
<line x1="366.50" y1="155.30" x2="605.50" y2="155.30" stroke="#7a7a7a" stroke-width="1.3" stroke-linecap="butt"/>
<line x1="390.30" y1="144.50" x2="390.30" y2="147.30" stroke="#000" stroke-width="0.7" stroke-linecap="butt"/>
<line x1="390.30" y1="262.30" x2="390.30" y2="265.10" stroke="#000" stroke-width="0.7" stroke-linecap="butt"/>
<text x="390.3" y="274.3" font-size="9.2" font-weight="bold" font-style="normal" text-anchor="middle" fill="#000" textLength="24.4" lengthAdjust="spacingAndGlyphs">1080</text>
<line x1="438.40" y1="144.50" x2="438.40" y2="147.30" stroke="#000" stroke-width="0.7" stroke-linecap="butt"/>
<line x1="438.40" y1="262.30" x2="438.40" y2="265.10" stroke="#000" stroke-width="0.7" stroke-linecap="butt"/>
<text x="438.4" y="274.3" font-size="9.2" font-weight="bold" font-style="normal" text-anchor="middle" fill="#000" textLength="24.4" lengthAdjust="spacingAndGlyphs">1100</text>
<line x1="486.00" y1="144.50" x2="486.00" y2="147.30" stroke="#000" stroke-width="0.7" stroke-linecap="butt"/>
<line x1="486.00" y1="262.30" x2="486.00" y2="265.10" stroke="#000" stroke-width="0.7" stroke-linecap="butt"/>
<text x="486.0" y="274.3" font-size="9.2" font-weight="bold" font-style="normal" text-anchor="middle" fill="#000" textLength="24.4" lengthAdjust="spacingAndGlyphs">1120</text>
<line x1="533.80" y1="144.50" x2="533.80" y2="147.30" stroke="#000" stroke-width="0.7" stroke-linecap="butt"/>
<line x1="533.80" y1="262.30" x2="533.80" y2="265.10" stroke="#000" stroke-width="0.7" stroke-linecap="butt"/>
<text x="533.8" y="274.3" font-size="9.2" font-weight="bold" font-style="normal" text-anchor="middle" fill="#000" textLength="24.4" lengthAdjust="spacingAndGlyphs">1140</text>
<line x1="581.60" y1="144.50" x2="581.60" y2="147.30" stroke="#000" stroke-width="0.7" stroke-linecap="butt"/>
<line x1="581.60" y1="262.30" x2="581.60" y2="265.10" stroke="#000" stroke-width="0.7" stroke-linecap="butt"/>
<text x="581.6" y="274.3" font-size="9.2" font-weight="bold" font-style="normal" text-anchor="middle" fill="#000" textLength="24.4" lengthAdjust="spacingAndGlyphs">1160</text>
<line x1="363.50" y1="52.30" x2="366.50" y2="52.30" stroke="#000" stroke-width="0.8" stroke-linecap="butt"/>
<text x="362.0" y="55.199999999999996" font-size="9.2" font-weight="bold" font-style="normal" text-anchor="end" fill="#000" textLength="18.6" lengthAdjust="spacingAndGlyphs">150</text>
<line x1="363.50" y1="81.00" x2="366.50" y2="81.00" stroke="#000" stroke-width="0.8" stroke-linecap="butt"/>
<text x="362.0" y="83.9" font-size="9.2" font-weight="bold" font-style="normal" text-anchor="end" fill="#000" textLength="18.6" lengthAdjust="spacingAndGlyphs">100</text>
<line x1="363.50" y1="109.70" x2="366.50" y2="109.70" stroke="#000" stroke-width="0.8" stroke-linecap="butt"/>
<text x="362.0" y="112.60000000000001" font-size="9.2" font-weight="bold" font-style="normal" text-anchor="end" fill="#000" textLength="12.2" lengthAdjust="spacingAndGlyphs">50</text>
<line x1="363.50" y1="138.40" x2="366.50" y2="138.40" stroke="#000" stroke-width="0.8" stroke-linecap="butt"/>
<text x="362.0" y="141.3" font-size="9.2" font-weight="bold" font-style="normal" text-anchor="end" fill="#000" textLength="5.2" lengthAdjust="spacingAndGlyphs">0</text>
<line x1="363.50" y1="262.30" x2="366.50" y2="262.30" stroke="#000" stroke-width="0.8" stroke-linecap="butt"/>
<text x="362.0" y="265.1" font-size="9.2" font-weight="bold" font-style="normal" text-anchor="end" fill="#000" textLength="5.2" lengthAdjust="spacingAndGlyphs">0</text>
<line x1="363.50" y1="240.90" x2="366.50" y2="240.90" stroke="#000" stroke-width="0.8" stroke-linecap="butt"/>
<text x="362.0" y="243.70000000000002" font-size="9.2" font-weight="bold" font-style="normal" text-anchor="end" fill="#000" textLength="5.2" lengthAdjust="spacingAndGlyphs">2</text>
<line x1="363.50" y1="219.50" x2="366.50" y2="219.50" stroke="#000" stroke-width="0.8" stroke-linecap="butt"/>
<text x="362.0" y="222.3" font-size="9.2" font-weight="bold" font-style="normal" text-anchor="end" fill="#000" textLength="5.2" lengthAdjust="spacingAndGlyphs">4</text>
<line x1="363.50" y1="198.10" x2="366.50" y2="198.10" stroke="#000" stroke-width="0.8" stroke-linecap="butt"/>
<text x="362.0" y="200.90000000000003" font-size="9.2" font-weight="bold" font-style="normal" text-anchor="end" fill="#000" textLength="5.2" lengthAdjust="spacingAndGlyphs">6</text>
<line x1="363.50" y1="176.70" x2="366.50" y2="176.70" stroke="#000" stroke-width="0.8" stroke-linecap="butt"/>
<text x="362.0" y="179.50000000000003" font-size="9.2" font-weight="bold" font-style="normal" text-anchor="end" fill="#000" textLength="5.2" lengthAdjust="spacingAndGlyphs">8</text>
<line x1="363.50" y1="155.30" x2="366.50" y2="155.30" stroke="#000" stroke-width="0.8" stroke-linecap="butt"/>
<text x="362.0" y="158.10000000000002" font-size="9.2" font-weight="bold" font-style="normal" text-anchor="end" fill="#000" textLength="12.2" lengthAdjust="spacingAndGlyphs">10</text>
<text x="485.6" y="284.6" font-size="9.2" font-weight="bold" font-style="normal" text-anchor="middle" fill="#000" textLength="30.8" lengthAdjust="spacingAndGlyphs"><tspan font-style="italic">t</tspan> [ms]</text>
<text transform="translate(335.8,90.4) rotate(-90)" font-size="9.2" font-weight="bold" text-anchor="middle" textLength="33" lengthAdjust="spacingAndGlyphs"><tspan font-style="italic">I</tspan><tspan font-size="6.5" dy="1.5">p</tspan><tspan dy="-1.5"> [kA]</tspan></text>
<text x="0" y="0" font-size="9.2" font-weight="bold" font-style="normal" text-anchor="middle" fill="#000" textLength="53.7" lengthAdjust="spacingAndGlyphs" transform="translate(344.8,208.5) rotate(-90)">HXR [a.u.]</text>
<line x1="367.10" y1="13.00" x2="387.40" y2="13.00" stroke="#1f77b4" stroke-width="1.3" stroke-opacity="0.85" stroke-linecap="butt"/>
<text x="395.2" y="16.4" font-size="9.6" font-weight="bold" font-style="normal" text-anchor="start" fill="#000" textLength="39.9" lengthAdjust="spacingAndGlyphs">#16670</text>
<line x1="367.10" y1="27.00" x2="387.40" y2="27.00" stroke="#ff7f0e" stroke-width="1.3" stroke-opacity="0.85" stroke-linecap="butt"/>
<text x="395.2" y="30.4" font-size="9.6" font-weight="bold" font-style="normal" text-anchor="start" fill="#000" textLength="39.9" lengthAdjust="spacingAndGlyphs">#16671</text>
<line x1="453.80" y1="13.00" x2="472.40" y2="13.00" stroke="#008000" stroke-width="1.3" stroke-opacity="0.85" stroke-dasharray="1.2,2.0" stroke-linecap="butt"/>
<text x="481.9" y="16.4" font-size="9.6" font-weight="bold" font-style="normal" text-anchor="start" fill="#000" textLength="39.9" lengthAdjust="spacingAndGlyphs">#16673</text>
<line x1="453.80" y1="27.00" x2="472.40" y2="27.00" stroke="#e377c2" stroke-width="1.3" stroke-opacity="0.85" stroke-dasharray="1.2,2.0" stroke-linecap="butt"/>
<text x="481.9" y="30.4" font-size="9.6" font-weight="bold" font-style="normal" text-anchor="start" fill="#000" textLength="39.9" lengthAdjust="spacingAndGlyphs">#16674</text>
<line x1="541.10" y1="13.00" x2="559.20" y2="13.00" stroke="#000000" stroke-width="1.3" stroke-opacity="0.85" stroke-dasharray="4.4,1.9" stroke-linecap="butt"/>
<text x="568.5" y="16.4" font-size="9.6" font-weight="bold" font-style="normal" text-anchor="start" fill="#000" textLength="39.9" lengthAdjust="spacingAndGlyphs">#16675</text>
<line x1="541.10" y1="27.00" x2="559.20" y2="27.00" stroke="#9467bd" stroke-width="1.3" stroke-opacity="0.85" stroke-dasharray="4.4,1.9" stroke-linecap="butt"/>
<text x="568.5" y="30.4" font-size="9.6" font-weight="bold" font-style="normal" text-anchor="start" fill="#000" textLength="39.9" lengthAdjust="spacingAndGlyphs">#16677</text>
</svg></body></html>
